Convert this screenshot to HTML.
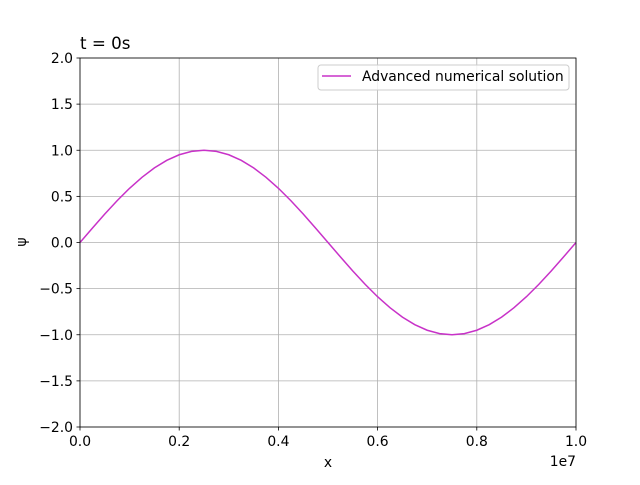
<!DOCTYPE html>
<html><head><meta charset="utf-8"><style>
body{margin:0;background:#fff}
svg text{font-family:"DejaVu Sans","Liberation Sans",sans-serif;fill:#000}
</style></head><body>
<svg id="chart" width="640" height="480" xmlns="http://www.w3.org/2000/svg">
<rect width="640" height="480" fill="#fff"/>
<g id="grid"></g>
<g id="ticks"></g>
<path id="line" fill="none" stroke="#c832c8" stroke-width="1.5"/>
<rect x="80" y="58" width="496" height="369" fill="none" stroke="#000" stroke-width="0.8"/>
<text x="80" y="49" font-size="16.7">t = 0s</text>
<text x="328" y="467" font-size="13.9" text-anchor="middle">x</text>
<text x="26" y="242" font-size="13.9" text-anchor="middle" transform="rotate(-90 26 242)">ψ</text>
<text x="576" y="466" font-size="13.9" text-anchor="end">1e7</text>
<g>
<rect x="318" y="65" width="251" height="25" rx="3" fill="#fff" fill-opacity="0.8" stroke="#ccc"/>
<line x1="322" y1="76" x2="351" y2="76" stroke="#c832c8" stroke-width="1.5"/>
<text x="362" y="81" font-size="13.9">Advanced numerical solution</text>
</g>
</svg>
<script>
const xTicks=[0,0.2,0.4,0.6,0.8,1.0];
const xTickLabels=["0.0","0.2","0.4","0.6","0.8","1.0"];
const yTicks=[-2,-1.5,-1,-0.5,0,0.5,1,1.5,2];
const yTickLabels=["−2.0","−1.5","−1.0","−0.5","0.0","0.5","1.0","1.5","2.0"];
const xValues=[0,0.025,0.05,0.075,0.1,0.125,0.15,0.175,0.2,0.225,0.25,0.275,0.3,0.325,0.35,0.375,0.4,0.425,0.45,0.475,0.5,0.525,0.55,0.575,0.6,0.625,0.65,0.675,0.7,0.725,0.75,0.775,0.8,0.825,0.85,0.875,0.9,0.925,0.95,0.975,1.0];
const psiValues=[0,0.156,0.309,0.454,0.588,0.707,0.809,0.891,0.951,0.988,1,0.988,0.951,0.891,0.809,0.707,0.588,0.454,0.309,0.156,0,-0.156,-0.309,-0.454,-0.588,-0.707,-0.809,-0.891,-0.951,-0.988,-1,-0.988,-0.951,-0.891,-0.809,-0.707,-0.588,-0.454,-0.309,-0.156,0];
const NS="http://www.w3.org/2000/svg";
const sx=v=>80+v*496;
const sy=v=>427-(v+2)/4*369;
const grid=document.getElementById('grid'),ticks=document.getElementById('ticks');
function mk(t,a,p){const e=document.createElementNS(NS,t);for(const k in a)e.setAttribute(k,a[k]);p.appendChild(e);return e;}
xTicks.forEach((v,i)=>{
 const g=mk('line',{x1:sx(v),x2:sx(v),y1:58,y2:427,stroke:'#b0b0b0','stroke-width':0.8},grid);
 
 
 mk('line',{x1:sx(v),x2:sx(v),y1:427,y2:430.5,stroke:'#000','stroke-width':0.8},ticks);
 const t=mk('text',{x:sx(v),y:446,'font-size':13.9,'text-anchor':'middle'},ticks);
 t.textContent=xTickLabels[i];
 
 
});
yTicks.forEach((v,i)=>{
 const g=mk('line',{x1:80,x2:576,y1:sy(v),y2:sy(v),stroke:'#b0b0b0','stroke-width':0.8},grid);
 
 
 mk('line',{x1:76.5,x2:80,y1:sy(v),y2:sy(v),stroke:'#000','stroke-width':0.8},ticks);
 const t=mk('text',{x:73,y:sy(v)+5,'font-size':13.9,'text-anchor':'end'},ticks);
 t.textContent=yTickLabels[i];
 
 
});
document.getElementById('line').setAttribute('d',xValues.map((x,i)=>(i?'L':'M')+sx(x).toFixed(2)+','+sy(psiValues[i]).toFixed(2)).join(''));
</script>
</body></html>
